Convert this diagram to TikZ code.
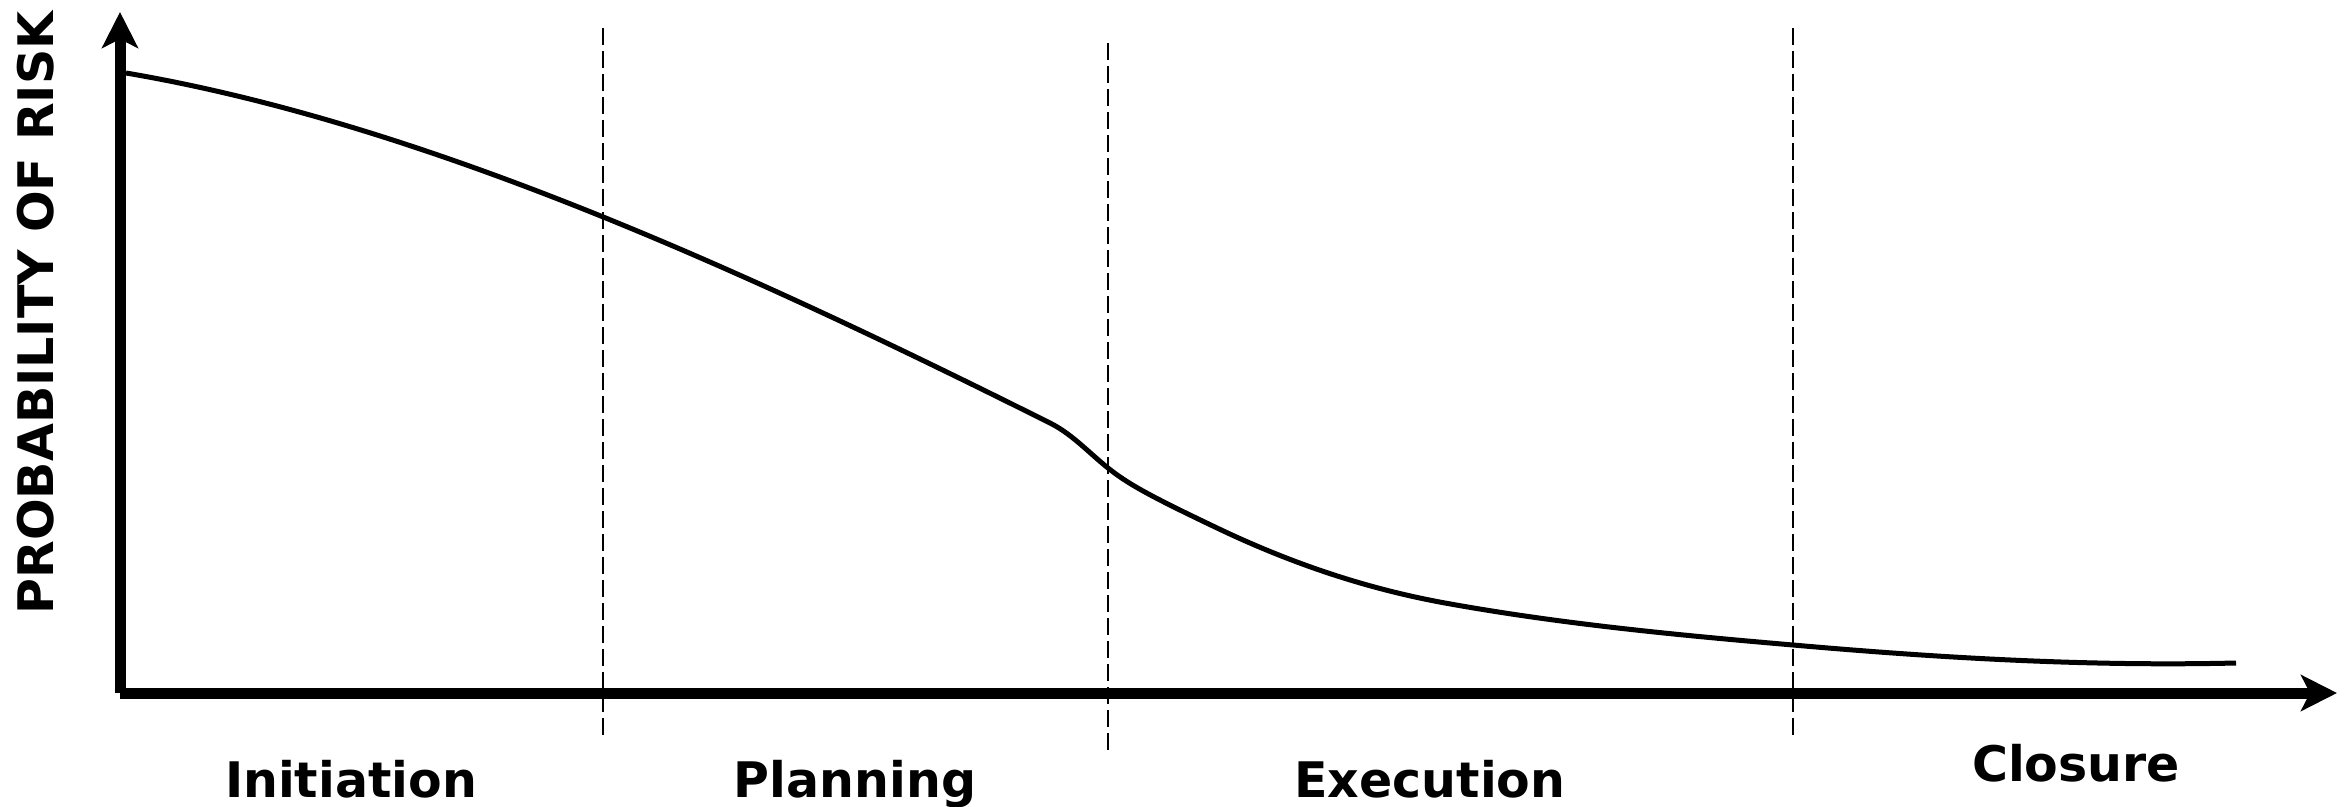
\documentclass[tikz,border=0pt]{standalone}
\usepackage{fontspec}
\setmainfont{DejaVu Sans}
\usetikzlibrary{arrows.meta}
\begin{document}
\begin{tikzpicture}[x=1pt,y=-1pt,
  axisline/.style={line width=11pt,-{Stealth[length=36pt,width=36pt,inset=9pt]}},
  phasesep/.style={line width=2.6pt,dash pattern=on 17pt off 6pt},
  riskcurve/.style={line width=5pt,line join=round},
  phaselabel/.style={font=\fontsize{49}{52}\selectfont\bfseries,anchor=base,inner sep=0pt},
  axislabel/.style={font=\fontsize{49}{52}\selectfont\bfseries,anchor=base,inner sep=0pt,rotate=90}]
\useasboundingbox (0,0) rectangle (2351,806);
\coordinate (O) at (120,693);
\coordinate (ytip) at (120,12);
\coordinate (xtip) at (2337,693);
\coordinate (ybot) at (120,693);
\draw[axisline] (ybot) -- (ytip);
\draw[axisline] (O) -- (xtip);
% phase separators
\coordinate (s1t) at (603,28);  \coordinate (s1b) at (603,740);
\coordinate (s2t) at (1108,43); \coordinate (s2b) at (1108,753);
\coordinate (s3t) at (1793,28); \coordinate (s3b) at (1793,740);
\draw[phasesep] (s1t) -- (s1b);
\draw[phasesep] (s2t) -- (s2b);
\draw[phasesep] (s3t) -- (s3b);
% risk curve
\coordinate (c0) at (126,73);
\coordinate (c1) at (1050,423);
\coordinate (c2) at (1108,468);
\coordinate (c3) at (1215,527);
\coordinate (c4) at (1445,603);
\coordinate (c5) at (1793,645);
\coordinate (c6) at (2236,663);
\draw[riskcurve] (c0)
  .. controls (426,124) and (750,273) .. (c1)
  .. controls (1072,434) and (1088,452) .. (c2)
  .. controls (1128,484) and (1150,496) .. (c3)
  .. controls (1292,564) and (1368,589) .. (c4)
  .. controls (1561,624) and (1677,635) .. (c5)
  .. controls (1941,658) and (2088,666.5) .. (c6);
% labels
\node[axislabel] (ylab) at (53,313) {PROBABILITY OF RISK};
\node[phaselabel] (init) at (351,797) {Initiation};
\node[phaselabel] (plan) at (855,797) {Planning};
\node[phaselabel] (exec) at (1430,797) {Execution};
\node[phaselabel] (clos) at (2076,781) {Closure};
\end{tikzpicture}
\end{document}
